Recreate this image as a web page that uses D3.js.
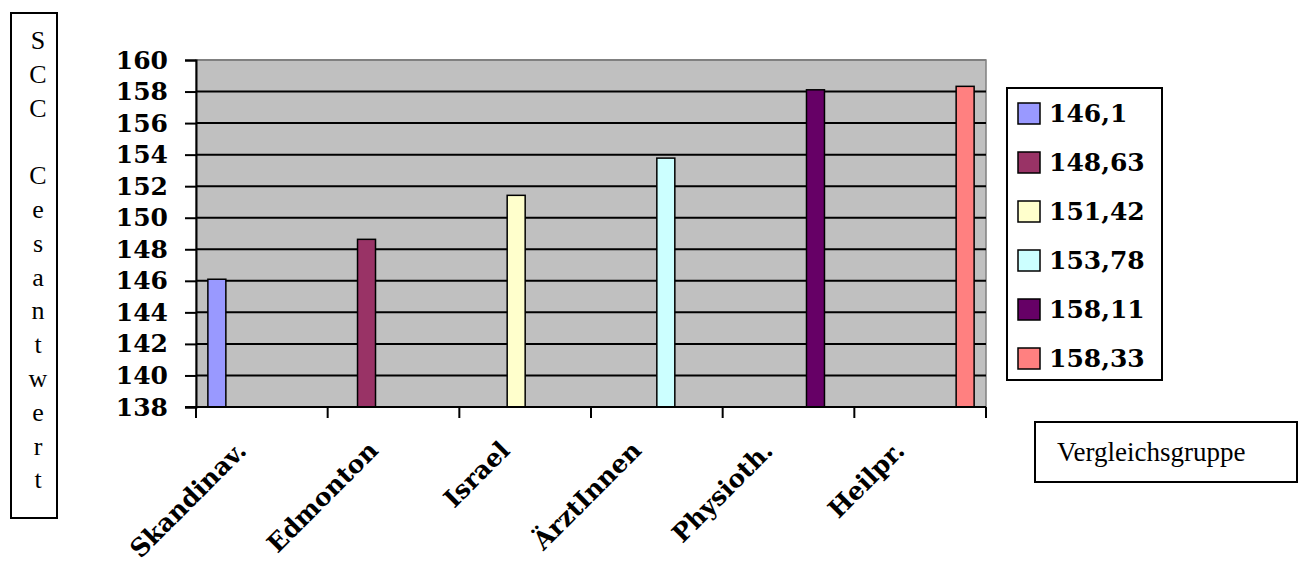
<!DOCTYPE html>
<html>
<head>
<meta charset="utf-8">
<script src="https://cdn.jsdelivr.net/npm/d3@7"></script>
<style>
  body { margin: 0; background: #fff; }
  svg { display: block; }
</style>
</head>
<body>
<div class="chart"></div>
<script>
  // chart values
  var categories = ['Skandinav.', 'Edmonton', 'Israel', 'ÄrztInnen', 'Physioth.', 'Heilpr.'];
  var values = [146.1, 148.63, 151.42, 153.78, 158.11, 158.33];
  var seriesNames = ['146,1', '148,63', '151,42', '153,78', '158,11', '158,33'];
  var yTicks = [138, 140, 142, 144, 146, 148, 150, 152, 154, 156, 158, 160];
  var yTitleLetters = ['S', 'C', 'C', '', 'C', 'e', 's', 'a', 'n', 't', 'w', 'e', 'r', 't'];
  var xTitle = 'Vergleichsgruppe';

  var palette = ['#9999FF', '#993366', '#FFFFCC', '#CCFFFF', '#660066', '#FF8080'];

  var width = 1299;
  var height = 572;
  var plot = { left: 196, right: 986, top: 60, bottom: 407 };
  var boldFont = '"DejaVu Serif", serif';
  var plainFont = '"Liberation Serif", "Times New Roman", serif';

  var svg = d3.select('.chart')
    .append('svg')
    .attr('width', width)
    .attr('height', height);

  var x0 = d3.scaleBand().domain(categories).range([plot.left, plot.right]).padding(0);
  var x1 = d3.scaleBand().domain(seriesNames).range([0, x0.bandwidth()]).paddingInner(0).paddingOuter(0.66);
  var y = d3.scaleLinear().domain([138, 160]).range([plot.bottom, plot.top]);
  var color = d3.scaleOrdinal().domain(seriesNames).range(palette);

  // plot background
  svg.append('rect')
    .attr('x', plot.left).attr('y', plot.top)
    .attr('width', plot.right - plot.left).attr('height', plot.bottom - plot.top)
    .attr('fill', '#C0C0C0')
    .attr('stroke', '#808080').attr('stroke-width', 1.5);

  // gridlines
  svg.append('g')
    .selectAll('line')
    .data(yTicks.slice(1))
    .enter().append('line')
    .attr('x1', plot.left).attr('x2', plot.right)
    .attr('y1', function(d) { return y(d); })
    .attr('y2', function(d) { return y(d); })
    .attr('stroke', function(d) { return d === 160 ? '#808080' : '#000'; })
    .attr('stroke-width', 2);

  // bars, one series per category
  var data = categories.map(function(c, i) {
    return { cat: c, series: seriesNames[i], value: values[i] };
  });
  svg.append('g')
    .selectAll('rect')
    .data(data)
    .enter().append('rect')
    .attr('x', function(d) { return x0(d.cat) + x1(d.series); })
    .attr('width', x1.bandwidth())
    .attr('y', function(d) { return y(d.value); })
    .attr('height', function(d) { return y(138) - y(d.value); })
    .attr('fill', function(d) { return color(d.series); })
    .attr('stroke', '#000')
    .attr('stroke-width', 1.5);

  // y axis
  var yAxis = svg.append('g')
    .attr('transform', 'translate(' + plot.left + ',0)')
    .call(d3.axisLeft(y).tickValues(yTicks).tickSize(11).tickPadding(17).tickFormat(d3.format('d')));
  yAxis.select('.domain').attr('stroke', '#000').attr('stroke-width', 2);
  yAxis.selectAll('.tick line').attr('stroke', '#000').attr('stroke-width', 2);
  yAxis.selectAll('.tick text')
    .attr('font-family', boldFont).attr('font-weight', 'bold').attr('font-size', 25)
    .attr('fill', '#000');

  // x axis with ticks at band boundaries
  var xAxisG = svg.append('g');
  xAxisG.append('line')
    .attr('x1', plot.left - 11).attr('x2', plot.right)
    .attr('y1', plot.bottom).attr('y2', plot.bottom)
    .attr('stroke', '#000').attr('stroke-width', 2);
  var bounds = categories.map(function(c) { return x0(c); }).concat([plot.right]);
  xAxisG.selectAll('.xtick')
    .data(bounds)
    .enter().append('line')
    .attr('class', 'xtick')
    .attr('x1', function(d) { return d; }).attr('x2', function(d) { return d; })
    .attr('y1', plot.bottom).attr('y2', plot.bottom + 11)
    .attr('stroke', '#000').attr('stroke-width', 2);
  xAxisG.selectAll('.xlabel')
    .data(categories)
    .enter().append('text')
    .attr('class', 'xlabel')
    .attr('transform', function(d) {
      return 'translate(' + (x0(d) + x0.bandwidth() / 2 - 14) + ',' + 452 + ') rotate(-45)';
    })
    .attr('text-anchor', 'end')
    .attr('font-family', boldFont).attr('font-weight', 'bold').attr('font-size', 25)
    .text(function(d) { return d; });

  // legend
  var legend = svg.append('g');
  legend.append('rect')
    .attr('x', 1007).attr('y', 88).attr('width', 155).attr('height', 292)
    .attr('fill', '#fff').attr('stroke', '#000').attr('stroke-width', 2);
  var items = legend.selectAll('.item')
    .data(seriesNames)
    .enter().append('g')
    .attr('class', 'item')
    .attr('transform', function(d, i) { return 'translate(1018,' + (113 + i * 49) + ')'; });
  items.append('rect')
    .attr('x', 0).attr('y', -10).attr('width', 22).attr('height', 21)
    .attr('fill', function(d) { return color(d); })
    .attr('stroke', '#000').attr('stroke-width', 1.5);
  items.append('text')
    .attr('x', 31).attr('y', 9)
    .attr('font-family', boldFont).attr('font-weight', 'bold').attr('font-size', 25)
    .text(function(d) { return d; });

  // y title box, letters stacked
  svg.append('rect')
    .attr('x', 11).attr('y', 13).attr('width', 46).attr('height', 505)
    .attr('fill', '#fff').attr('stroke', '#000').attr('stroke-width', 2);
  svg.append('g')
    .selectAll('text')
    .data(yTitleLetters)
    .enter().append('text')
    .attr('x', 38)
    .attr('y', function(d, i) { return 49 + i * 33.8; })
    .attr('text-anchor', 'middle')
    .attr('font-family', plainFont).attr('font-size', 26)
    .text(function(d) { return d; });

  // x title box
  svg.append('rect')
    .attr('x', 1035).attr('y', 422).attr('width', 262).attr('height', 60)
    .attr('fill', '#fff').attr('stroke', '#000').attr('stroke-width', 2);
  svg.append('text')
    .attr('x', 1057).attr('y', 461)
    .attr('font-family', plainFont).attr('font-size', 27)
    .text(xTitle);
</script>
</body>
</html>
